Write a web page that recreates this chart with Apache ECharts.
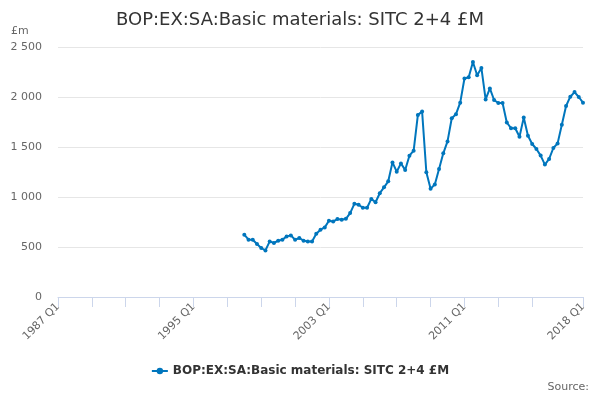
<!DOCTYPE html>
<html>
<head>
<meta charset="utf-8">
<script src="https://cdn.jsdelivr.net/npm/echarts@6/dist/echarts.min.js"></script>
<style>
  html, body { margin: 0; padding: 0; background: #fff; }
  #chart { width: 600px; height: 400px; }
</style>
</head>
<body>
<div id="chart"></div>
<script>
// quarters on the axis: 1987 Q1 .. 2018 Q1
const firstYear = 1987;
const lastYear = 2018;
const categories = [];
for (let y = firstYear; y <= lastYear; y++) {
  for (let q = 1; q <= 4; q++) {
    if (y === lastYear && q > 1) break;
    categories.push(y + ' Q' + q);
  }
}

// series starts in 1998 Q1 (£m)
const seriesStart = '1998 Q1';
const values = [
  623, 573, 573, 530, 490, 466, 556, 540, 563, 573, 606, 616, 573, 590, 563, 556, 556, 633, 673, 696, 762, 756,
  779, 772, 782, 839, 932, 922, 892, 892, 981, 948, 1038, 1097, 1157, 1346, 1253, 1336, 1270, 1413, 1463, 1821, 1854, 1247,
  1083, 1126, 1281, 1437, 1556, 1788, 1828, 1943, 2185, 2198, 2350, 2218, 2291, 1976, 2086, 1970, 1940, 1940, 1745,
  1688, 1688, 1602, 1794, 1612, 1530, 1480, 1414, 1324, 1381, 1490, 1536, 1722, 1910, 2003, 2049, 2000, 1943
];

const seriesName = 'BOP:EX:SA:Basic materials: SITC 2+4 £M';
const yTicks = [0, 500, 1000, 1500, 2000, 2500];

const lead = categories.indexOf(seriesStart);
const seriesData = new Array(lead).fill(null).concat(values);
const lastIdx = categories.length - 1;

const chart = echarts.init(document.getElementById('chart'), null, { renderer: 'canvas' });

const option = {
  animation: false,
  textStyle: { fontFamily: 'DejaVu Sans' },
  title: {
    text: seriesName,
    left: 'center',
    top: 6,
    textStyle: { fontSize: 18, fontWeight: 'normal', color: '#333333', fontFamily: 'DejaVu Sans' }
  },
  graphic: [
    { type: 'text', left: 11, top: 26, style: { text: '£m', fontSize: 11, fill: '#666666', fontFamily: 'DejaVu Sans' } },
    { type: 'text', right: 11, top: 382, style: { text: 'Source:', fontSize: 11, fill: '#666666', fontFamily: 'DejaVu Sans' } }
  ],
  legend: {
    bottom: 18,
    left: 'center',
    itemWidth: 16,
    itemHeight: 8,
    textStyle: { fontSize: 12, fontWeight: 'bold', color: '#333333', fontFamily: 'DejaVu Sans' },
    data: [seriesName]
  },
  grid: { left: 58, right: 17, top: 47, bottom: 103 },
  xAxis: {
    type: 'category',
    data: categories,
    boundaryGap: false,
    axisLine: { lineStyle: { color: '#ccd6eb' } },
    axisTick: {
      length: 10,
      lineStyle: { color: '#ccd6eb' },
      interval: (i) => (i % 8 === 0 && i <= lastIdx - 8) || i === lastIdx
    },
    axisLabel: {
      rotate: 45,
      color: '#666666',
      fontSize: 11,
      margin: 8,
      interval: (i) => i % 32 === 0 || i === lastIdx
    },
    splitLine: { show: false }
  },
  yAxis: {
    type: 'value',
    min: yTicks[0],
    max: yTicks[yTicks.length - 1],
    interval: 500,
    axisLine: { show: false },
    axisTick: { show: false },
    axisLabel: {
      color: '#666666',
      fontSize: 11,
      margin: 16,
      formatter: (v) => String(v).replace(/\B(?=(\d{3})+(?!\d))/g, ' ')
    },
    splitLine: { lineStyle: { color: '#e6e6e6' } }
  },
  series: [{
    name: seriesName,
    type: 'line',
    data: seriesData,
    symbol: 'circle',
    symbolSize: 4,
    showSymbol: true,
    showAllSymbol: true,
    connectNulls: false,
    lineStyle: { width: 2, color: '#0076bd' },
    itemStyle: { color: '#0076bd' }
  }]
};

chart.setOption(option);
</script>
</body>
</html>
